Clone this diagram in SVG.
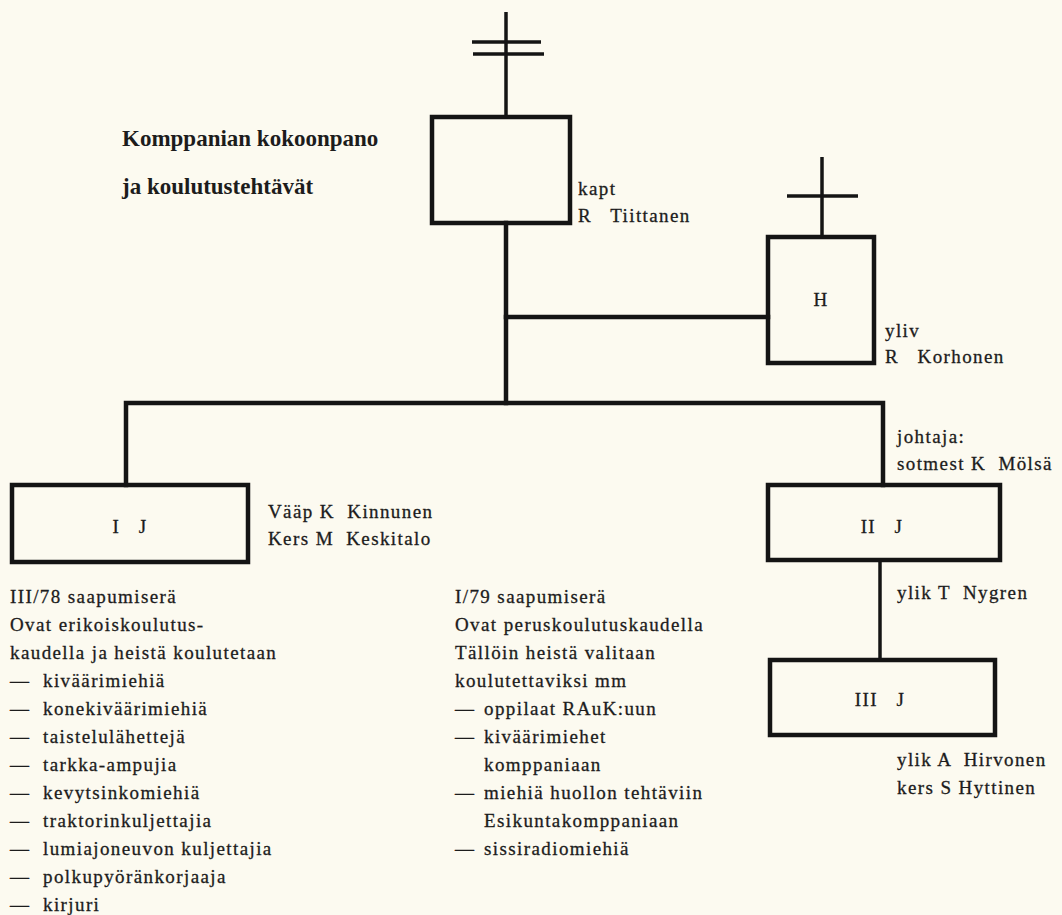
<svg xmlns="http://www.w3.org/2000/svg" width="1062" height="915" viewBox="0 0 1062 915">
<style>
.bg{fill:#fcfaf0}
.box{fill:none;stroke:#141414;stroke-width:4.5}
.ln{fill:none;stroke:#141414;stroke-width:4.5;stroke-linecap:square}
.thin{fill:none;stroke:#141414;stroke-width:3.5}
.t{font-family:"Liberation Serif","Times New Roman",serif;font-size:19px;letter-spacing:1.4px;fill:#1c1c1c;stroke:#1c1c1c;stroke-width:0.3px}
.c{text-anchor:middle}
.title{font-family:"Liberation Serif","Times New Roman",serif;font-size:23px;font-weight:bold;fill:#1c1c1c}
</style>
<rect class="bg" x="0" y="0" width="1062" height="915"/>
<g id="title">
<text class="title" x="122" y="146">Komppanian kokoonpano</text>
<text class="title" x="122" y="194">ja koulutustehtävät</text>
</g>
<g id="connectors">
<line class="ln" x1="506" y1="223" x2="506" y2="403"/>
<line class="ln" x1="506" y1="317" x2="768" y2="317"/>
<polyline class="ln" points="126,485 126,403 883,403 883,485"/>
<line class="thin" x1="880" y1="560" x2="880" y2="660"/>
</g>
<g id="node-kapt">
<line class="thin" x1="506" y1="12" x2="506" y2="117"/>
<line class="thin" x1="472" y1="42" x2="541" y2="42"/>
<line class="thin" x1="473" y1="54" x2="544" y2="54"/>
<rect class="box" x="432" y="117" width="138" height="106"/>
<text class="t" x="578" y="195">kapt</text>
<text class="t" x="578" y="222" xml:space="preserve">R   Tiittanen</text>
</g>
<g id="node-H">
<line class="thin" x1="822" y1="157" x2="822" y2="237"/>
<line class="thin" x1="787" y1="196" x2="858" y2="196"/>
<rect class="box" x="768" y="237" width="106" height="126"/>
<text class="t c" x="821" y="306">H</text>
<text class="t" x="885" y="337">yliv</text>
<text class="t" x="885" y="363" xml:space="preserve">R   Korhonen</text>
</g>
<g id="node-IJ">
<rect class="box" x="12" y="485" width="236" height="77"/>
<text class="t c" x="130" y="533" xml:space="preserve">I   J</text>
<text class="t" x="268" y="518" xml:space="preserve">Vääp K  Kinnunen</text>
<text class="t" x="268" y="545" xml:space="preserve">Kers M  Keskitalo</text>
</g>
<g id="node-IIJ">
<rect class="box" x="768" y="485" width="232" height="75"/>
<text class="t c" x="882" y="533" xml:space="preserve">II   J</text>
<text class="t" x="897" y="443">johtaja:</text>
<text class="t" x="897" y="470" xml:space="preserve">sotmest K  Mölsä</text>
<text class="t" x="897" y="599" xml:space="preserve">ylik T  Nygren</text>
</g>
<g id="node-IIIJ">
<rect class="box" x="770" y="660" width="225" height="75"/>
<text class="t c" x="880" y="706" xml:space="preserve">III   J</text>
<text class="t" x="897" y="766" xml:space="preserve">ylik A  Hirvonen</text>
<text class="t" x="897" y="794">kers S Hyttinen</text>
</g>
<g id="text-left">
<text class="t" x="10" y="603">III/78 saapumiserä</text>
<text class="t" x="10" y="631">Ovat erikoiskoulutus-</text>
<text class="t" x="10" y="659">kaudella ja heistä koulutetaan</text>
<text class="t" x="10" y="687">—</text><text class="t" x="43" y="687">kiväärimiehiä</text>
<text class="t" x="10" y="715">—</text><text class="t" x="43" y="715">konekiväärimiehiä</text>
<text class="t" x="10" y="743">—</text><text class="t" x="43" y="743">taistelulähettejä</text>
<text class="t" x="10" y="771">—</text><text class="t" x="43" y="771">tarkka-ampujia</text>
<text class="t" x="10" y="799">—</text><text class="t" x="43" y="799">kevytsinkomiehiä</text>
<text class="t" x="10" y="827">—</text><text class="t" x="43" y="827">traktorinkuljettajia</text>
<text class="t" x="10" y="855">—</text><text class="t" x="43" y="855">lumiajoneuvon kuljettajia</text>
<text class="t" x="10" y="883">—</text><text class="t" x="43" y="883">polkupyöränkorjaaja</text>
<text class="t" x="10" y="911">—</text><text class="t" x="43" y="911">kirjuri</text>
</g>
<g id="text-middle">
<text class="t" x="455" y="603">I/79 saapumiserä</text>
<text class="t" x="455" y="631">Ovat peruskoulutuskaudella</text>
<text class="t" x="455" y="659">Tällöin heistä valitaan</text>
<text class="t" x="455" y="687">koulutettaviksi mm</text>
<text class="t" x="455" y="715">—</text><text class="t" x="484" y="715">oppilaat RAuK:uun</text>
<text class="t" x="455" y="743">—</text><text class="t" x="484" y="743">kiväärimiehet</text>
<text class="t" x="484" y="771">komppaniaan</text>
<text class="t" x="455" y="799">—</text><text class="t" x="484" y="799">miehiä huollon tehtäviin</text>
<text class="t" x="484" y="827">Esikuntakomppaniaan</text>
<text class="t" x="455" y="855">—</text><text class="t" x="484" y="855">sissiradiomiehiä</text>
</g>
</svg>
